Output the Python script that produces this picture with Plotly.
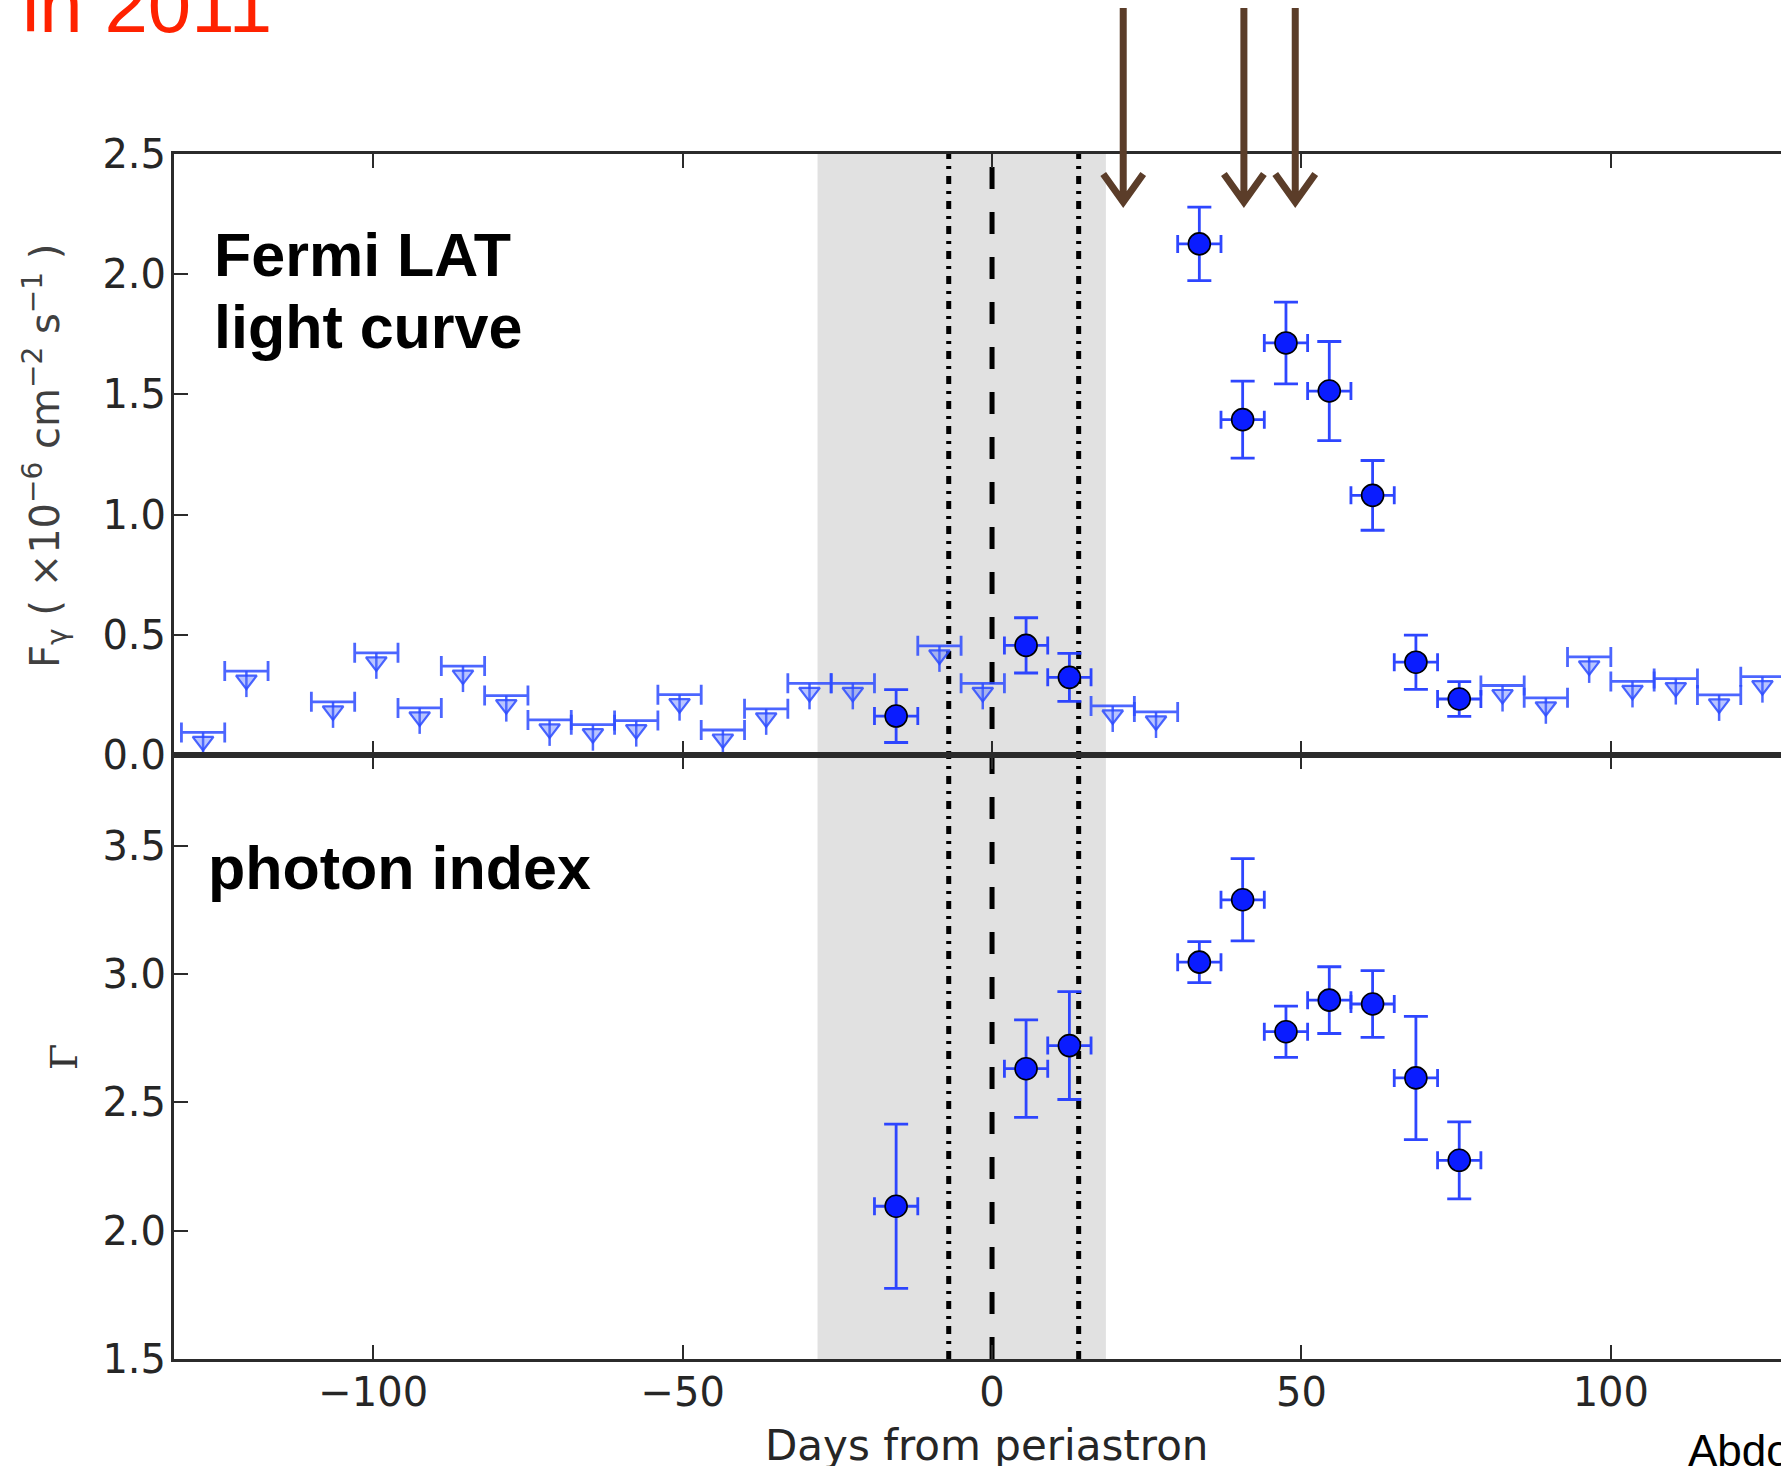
import plotly.graph_objects as go

# ---------------------------------------------------------------------------
# Fermi LAT light curve and photon index around periastron (7-day bins)
# ---------------------------------------------------------------------------
BIN_HALF_WIDTH = 3.5  # days

# 95% upper limits on the flux (x1e-6 ph cm^-2 s^-1)
UL_DAYS = [-127.5, -120.5, -106.5, -99.5, -92.5, -85.5, -78.5, -71.5, -64.5,
           -57.5, -50.5, -43.5, -36.5, -29.5, -22.5, -8.5, -1.5, 19.5, 26.5,
           82.5, 89.5, 96.5, 103.5, 110.5, 117.5, 124.5]
UL_FLUX = [0.094, 0.349, 0.221, 0.425, 0.196, 0.370, 0.247, 0.146, 0.126,
           0.143, 0.251, 0.104, 0.192, 0.298, 0.298, 0.454, 0.298, 0.204, 0.179,
           0.289, 0.238, 0.408, 0.306, 0.318, 0.250, 0.326]

# Significant detections
DET_DAYS = [-15.5, 5.5, 12.5, 33.5, 40.5, 47.5, 54.5, 61.5, 68.5, 75.5]
DET_FLUX = [0.162, 0.456, 0.323, 2.126, 1.395, 1.714, 1.514, 1.080, 0.386, 0.233]
DET_FLUX_ERR = [0.110, 0.115, 0.100, 0.153, 0.160, 0.170, 0.206, 0.145, 0.113, 0.072]

# Photon index of the detected bins
INDEX = [2.095, 2.631, 2.721, 3.046, 3.289, 2.775, 2.898, 2.883, 2.595, 2.274]
INDEX_ERR = [0.32, 0.19, 0.21, 0.08, 0.16, 0.10, 0.13, 0.13, 0.24, 0.15]

# Reference epochs (days from periastron)
SHADED_SPAN = [-28.2, 18.4]
PERIASTRON_DAY = 0
DASHDOT_DAYS = [-7, 14]
FLARE_MARK_DAYS = [21.2, 40.7, 49.0]

X_TICKS = [-100, -50, 0, 50, 100]
FLUX_TICKS = [0.0, 0.5, 1.0, 1.5, 2.0, 2.5]
INDEX_TICKS = [1.5, 2.0, 2.5, 3.0, 3.5]

# ---------------------------------------------------------------------------
# Geometry
# ---------------------------------------------------------------------------
W, H = 1781, 1466
ML, MR, MT, MB = 174, 0, 154, 107
PLOT_W = W - ML - MR
PLOT_H = H - MT - MB
SPLIT_PX = 755                      # boundary between the two panels
SPLIT = (H - MB - SPLIT_PX) / PLOT_H
X_RANGE = [-132.2, 127.5]
FLUX_RANGE = [0.0, 2.5]
INDEX_RANGE = [1.5, 3.853]

FLUX_PX_PER_UNIT = (SPLIT_PX - MT) / (FLUX_RANGE[1] - FLUX_RANGE[0])


def px_x(px):
    return (px - ML) / PLOT_W


def px_y(py):
    return (H - MB - py) / PLOT_H


def day_x(day):
    return (day - X_RANGE[0]) / (X_RANGE[1] - X_RANGE[0])


AXIS_COLOR = "#2b2b2b"
TICK_FONT = dict(family="DejaVu Sans", size=40, color="#262626")
DET_COLOR = "#0a1cff"
ERR_COLOR = "rgba(35,60,255,0.95)"
UL_COLOR = "rgba(45,75,255,0.85)"

fig = go.Figure()

# ---- upper limits: bin bar + downward stem ---------------------------------
stem = 26 / FLUX_PX_PER_UNIT
tri_offset = 9 / FLUX_PX_PER_UNIT
n_ul = len(UL_DAYS)
fig.add_trace(go.Scatter(
    x=UL_DAYS, y=UL_FLUX, mode="markers", xaxis="x", yaxis="y",
    marker=dict(size=1, color="rgba(0,0,0,0)"),
    error_x=dict(type="data", array=[BIN_HALF_WIDTH] * n_ul,
                 color=UL_COLOR, thickness=2.8, width=10),
    error_y=dict(type="data", symmetric=False, array=[0] * n_ul,
                 arrayminus=[stem] * n_ul, color=UL_COLOR,
                 thickness=2.5, width=0),
    hoverinfo="skip", showlegend=False,
))
fig.add_trace(go.Scatter(
    x=UL_DAYS, y=[f - tri_offset for f in UL_FLUX], mode="markers",
    xaxis="x", yaxis="y",
    marker=dict(symbol="triangle-down", size=18,
                color="rgba(80,110,255,0.40)",
                line=dict(color=UL_COLOR, width=2.2)),
    hoverinfo="skip", showlegend=False,
))

# ---- detected flux points ---------------------------------------------------
n_det = len(DET_DAYS)
fig.add_trace(go.Scatter(
    x=DET_DAYS, y=DET_FLUX, mode="markers", xaxis="x", yaxis="y",
    marker=dict(size=22, color=DET_COLOR, line=dict(color="black", width=1.6)),
    error_x=dict(type="data", array=[BIN_HALF_WIDTH] * n_det,
                 color=ERR_COLOR, thickness=2.8, width=9),
    error_y=dict(type="data", array=DET_FLUX_ERR,
                 color=ERR_COLOR, thickness=2.8, width=12),
    showlegend=False,
))

# ---- photon index -------------------------------------------------------------
fig.add_trace(go.Scatter(
    x=DET_DAYS, y=INDEX, mode="markers", xaxis="x2", yaxis="y2",
    marker=dict(size=22, color=DET_COLOR, line=dict(color="black", width=1.6)),
    error_x=dict(type="data", array=[BIN_HALF_WIDTH] * n_det,
                 color=ERR_COLOR, thickness=2.8, width=9),
    error_y=dict(type="data", array=INDEX_ERR,
                 color=ERR_COLOR, thickness=2.8, width=12),
    showlegend=False,
))

# ---- shaded interval and reference epochs ---------------------------------------
shapes = [
    dict(type="rect", xref="x", yref="paper",
         x0=SHADED_SPAN[0], x1=SHADED_SPAN[1], y0=0, y1=1,
         fillcolor="#e1e1e1", line=dict(width=0), layer="below"),
    dict(type="line", xref="x", yref="paper",
         x0=PERIASTRON_DAY, x1=PERIASTRON_DAY, y0=0, y1=1,
         line=dict(color="black", width=5, dash="22px,23px"), layer="below"),
]
for d in DASHDOT_DAYS:
    shapes.append(dict(type="line", xref="x", yref="paper",
                       x0=d, x1=d, y0=0, y1=1,
                       line=dict(color="black", width=5,
                                 dash="8px,7px,3px,7px"),
                       layer="below"))

# ---- arrows marking flare epochs above the light curve ----------------------------
ARROW_TOP_PX, ARROW_TIP_PX = 8, 202
WING_DX, WING_DY = 20, 28
for d in FLARE_MARK_DAYS:
    xc = day_x(d)
    xl = xc - WING_DX / PLOT_W
    xr = xc + WING_DX / PLOT_W
    yt = px_y(ARROW_TOP_PX)
    yp = px_y(ARROW_TIP_PX)
    yw = px_y(ARROW_TIP_PX - WING_DY)
    path = (f"M {xc},{yt} L {xc},{yp} "
            f"M {xl},{yw} L {xc},{yp} L {xr},{yw}")
    shapes.append(dict(type="path", xref="paper", yref="paper", path=path,
                       line=dict(color="#5b3d29", width=7), layer="above"))

# ---- text ------------------------------------------------------------------------
annotations = [
    dict(text="in 2011", xref="paper", yref="paper",
         x=px_x(20), y=px_y(5), xanchor="left", yanchor="middle",
         showarrow=False,
         font=dict(family="Liberation Sans", size=78, color="#ff2200")),
    dict(text="<b>Fermi LAT</b>", xref="paper", yref="paper",
         x=px_x(212), y=px_y(255), xanchor="left", yanchor="middle",
         showarrow=False,
         font=dict(family="Liberation Sans", size=61, color="black")),
    dict(text="<b>light curve</b>", xref="paper", yref="paper",
         x=px_x(212), y=px_y(327), xanchor="left", yanchor="middle",
         showarrow=False,
         font=dict(family="Liberation Sans", size=61, color="black")),
    dict(text="<b>photon index</b>", xref="paper", yref="paper",
         x=px_x(206), y=px_y(868), xanchor="left", yanchor="middle",
         showarrow=False,
         font=dict(family="Liberation Sans", size=61, color="black")),
    dict(text="F<sub>γ</sub> ( ×10<sup>−6</sup> cm<sup>−2</sup> s<sup>−1</sup> )",
         xref="paper", yref="paper", x=px_x(45), y=px_y(456),
         xanchor="center", yanchor="middle", textangle=-90, showarrow=False,
         font=dict(family="DejaVu Sans", size=40, color="#404040")),
    dict(text="Γ", xref="paper", yref="paper", x=px_x(64), y=px_y(1057),
         xanchor="center", yanchor="middle", textangle=-90, showarrow=False,
         font=dict(family="DejaVu Serif", size=38, color="#333333")),
    dict(text="Days from periastron", xref="paper", yref="paper",
         x=px_x(986), y=px_y(1445), xanchor="center", yanchor="middle",
         showarrow=False,
         font=dict(family="DejaVu Sans", size=42, color="#262626")),
    dict(text="Abdo et al. 2011", xref="paper", yref="paper",
         x=px_x(1686), y=px_y(1450), xanchor="left", yanchor="middle",
         showarrow=False,
         font=dict(family="Liberation Sans", size=44, color="black")),
]

axis_common = dict(
    showline=True, linecolor=AXIS_COLOR, linewidth=3,
    ticks="inside", ticklen=14, tickwidth=2, tickcolor=AXIS_COLOR,
    showgrid=False, zeroline=False, tickfont=TICK_FONT,
)

fig.update_layout(
    width=W, height=H, autosize=False,
    margin=dict(l=ML, r=MR, t=MT, b=MB, pad=0),
    paper_bgcolor="white", plot_bgcolor="white",
    xaxis=dict(domain=[0, 1], anchor="y", range=X_RANGE, tickvals=X_TICKS,
               mirror="ticks", showticklabels=False, **axis_common),
    yaxis=dict(domain=[SPLIT, 1], anchor="x", range=FLUX_RANGE,
               tickvals=FLUX_TICKS, tickformat=".1f", mirror=False,
               ticklabelstandoff=-3, **axis_common),
    xaxis2=dict(domain=[0, 1], anchor="y2", range=X_RANGE, matches="x",
                tickvals=X_TICKS, mirror="ticks", ticklabelstandoff=-4,
                **axis_common),
    yaxis2=dict(domain=[0, SPLIT], anchor="x2", range=INDEX_RANGE,
                tickvals=INDEX_TICKS, tickformat=".1f", mirror=False,
                ticklabelstandoff=-3, **axis_common),
    shapes=shapes,
    annotations=annotations,
    showlegend=False,
)

fig.write_html("out.html")
